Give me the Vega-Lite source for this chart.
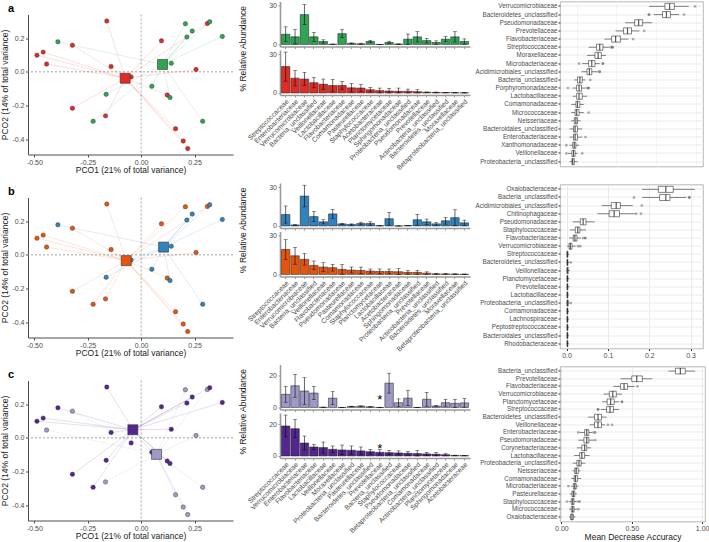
{
"$schema": "https://vega.github.io/schema/vega-lite/v6.json",
"padding": {"left": 0, "top": 0.5, "right": 0, "bottom": 0},
"config": {
  "font": "Liberation Sans",
  "view": {"stroke": null},
  "locale": {"number": {"decimal": ".", "thousands": ",", "grouping": [3], "currency": ["$", ""], "minus": "-"}},
  "axis": {"labelFont": "Liberation Sans", "labelFontSize": 7, "labelColor": "#4d4d4d", "titleFont": "Liberation Sans", "titleFontSize": 8.5, "titleFontWeight": "normal", "titleColor": "#1a1a1a", "tickColor": "#333333", "tickSize": 2.5, "labelPadding": 1.5, "domainColor": "#333333", "grid": false},
  "title": {"font": "Liberation Sans"}
},
"datasets": {
  "pts": [
    {"id":1,"x":-0.161,"y":0.301,"ga":"a1","gb":"b1","gc":"c1"},
    {"id":2,"x":-0.322,"y":0.158,"ga":"a1","gb":"b1","gc":"c2"},
    {"id":3,"x":-0.459,"y":0.117,"ga":"a1","gb":"b1","gc":"c1"},
    {"id":4,"x":-0.488,"y":0.099,"ga":"a1","gb":"b1","gc":"c1"},
    {"id":5,"x":-0.443,"y":0.046,"ga":"a1","gb":"b1","gc":"c2"},
    {"id":6,"x":-0.141,"y":0.032,"ga":"a1","gb":"b1","gc":"c1"},
    {"id":7,"x":-0.047,"y":-0.030,"ga":"a1","gb":"b2","gc":"c1"},
    {"id":8,"x":0.095,"y":0.184,"ga":"a1","gb":"b1","gc":"c1"},
    {"id":9,"x":0.257,"y":0.014,"ga":"a1","gb":"b1","gc":"c2"},
    {"id":10,"x":0.310,"y":0.287,"ga":"a1","gb":"b1","gc":"c2"},
    {"id":11,"x":0.122,"y":-0.137,"ga":"a1","gb":"b1","gc":"c1"},
    {"id":12,"x":-0.322,"y":-0.216,"ga":"a1","gb":"b1","gc":"c1"},
    {"id":13,"x":-0.167,"y":-0.261,"ga":"a1","gb":"b1","gc":"c2"},
    {"id":14,"x":0.161,"y":-0.337,"ga":"a1","gb":"b1","gc":"c2"},
    {"id":15,"x":0.197,"y":-0.410,"ga":"a1","gb":"b1","gc":"c2"},
    {"id":16,"x":0.218,"y":-0.455,"ga":"a1","gb":"b1","gc":"c2"},
    {"id":17,"x":-0.390,"y":0.178,"ga":"a2","gb":"b2","gc":"c1"},
    {"id":18,"x":-0.164,"y":-0.133,"ga":"a2","gb":"b2","gc":"c1"},
    {"id":19,"x":-0.225,"y":-0.293,"ga":"a2","gb":"b1","gc":"c1"},
    {"id":20,"x":0.050,"y":-0.085,"ga":"a2","gb":"b2","gc":"c1"},
    {"id":21,"x":0.135,"y":-0.152,"ga":"a2","gb":"b2","gc":"c1"},
    {"id":22,"x":0.141,"y":0.051,"ga":"a2","gb":"b2","gc":"c1"},
    {"id":23,"x":0.207,"y":0.285,"ga":"a2","gb":"b1","gc":"c2"},
    {"id":24,"x":0.239,"y":0.242,"ga":"a2","gb":"b2","gc":"c1"},
    {"id":25,"x":0.214,"y":0.206,"ga":"a2","gb":"b2","gc":"c1"},
    {"id":26,"x":0.321,"y":0.297,"ga":"a2","gb":"b2","gc":"c1"},
    {"id":27,"x":0.380,"y":0.210,"ga":"a2","gb":"b2","gc":"c1"},
    {"id":28,"x":0.288,"y":-0.293,"ga":"a2","gb":"b2","gc":"c2"}
  ],
  "cents": [
    {"g":"a1","x":-0.075,"y":-0.038},{"g":"a2","x":0.100,"y":0.044},
    {"g":"b1","x":-0.070,"y":-0.034},{"g":"b2","x":0.105,"y":0.046},
    {"g":"c1","x":-0.039,"y":0.048},{"g":"c2","x":0.072,"y":-0.098}
  ],
  "bars": [
    {"p":"a","s":"t","f":"Streptococcaceae","m":7.9,"lo":2.1,"hi":13.7},
    {"p":"a","s":"t","f":"Enterobacteriaceae","m":5.9,"lo":0.3,"hi":11.5},
    {"p":"a","s":"t","f":"Verrucomicrobiaceae","m":23.2,"lo":15.4,"hi":31.0},
    {"p":"a","s":"t","f":"Bacteria_unclassified","m":5.9,"lo":2.4,"hi":9.4},
    {"p":"a","s":"t","f":"Veillonellaceae","m":2.3,"lo":1.0,"hi":3.6},
    {"p":"a","s":"t","f":"Lactobacillaceae","m":0.2,"lo":0.1,"hi":0.3},
    {"p":"a","s":"t","f":"Flavobacteriaceae","m":8.4,"lo":5.3,"hi":11.5},
    {"p":"a","s":"t","f":"Comamonadaceae","m":0.8,"lo":0.4,"hi":1.2},
    {"p":"a","s":"t","f":"Pasteurellaceae","m":0.5,"lo":0.0,"hi":1.0},
    {"p":"a","s":"t","f":"Staphylococcaceae","m":2.3,"lo":1.4,"hi":3.2},
    {"p":"a","s":"t","f":"Acetobacteraceae","m":0,"lo":0,"hi":0},
    {"p":"a","s":"t","f":"Planctomycetaceae","m":1.5,"lo":0.5,"hi":2.5},
    {"p":"a","s":"t","f":"Sphingomonadaceae","m":0.3,"lo":0.1,"hi":0.5},
    {"p":"a","s":"t","f":"Proteobacteria_unclassified","m":4.1,"lo":0.1,"hi":8.1},
    {"p":"a","s":"t","f":"Pseudomonadaceae","m":5.9,"lo":1.9,"hi":9.9},
    {"p":"a","s":"t","f":"Prevotellaceae","m":3.0,"lo":1.2,"hi":4.8},
    {"p":"a","s":"t","f":"Actinobacteria_unclassified","m":1.5,"lo":0.2,"hi":2.8},
    {"p":"a","s":"t","f":"Bacteroidetes_unclassified","m":4.1,"lo":2.1,"hi":6.1},
    {"p":"a","s":"t","f":"Moraxellaceae","m":5.9,"lo":1.9,"hi":9.9},
    {"p":"a","s":"t","f":"Betaproteobacteria_unclassified","m":2.3,"lo":0.3,"hi":4.3},
    {"p":"a","s":"b","f":"Streptococcaceae","m":20.5,"lo":9.2,"hi":31.8},
    {"p":"a","s":"b","f":"Enterobacteriaceae","m":11.5,"lo":5.5,"hi":17.5},
    {"p":"a","s":"b","f":"Verrucomicrobiaceae","m":10.8,"lo":5.6,"hi":16.0},
    {"p":"a","s":"b","f":"Bacteria_unclassified","m":8.0,"lo":4.0,"hi":12.0},
    {"p":"a","s":"b","f":"Veillonellaceae","m":6.8,"lo":2.8,"hi":10.8},
    {"p":"a","s":"b","f":"Lactobacillaceae","m":5.8,"lo":1.1,"hi":10.5},
    {"p":"a","s":"b","f":"Flavobacteriaceae","m":5.8,"lo":2.6,"hi":9.0},
    {"p":"a","s":"b","f":"Comamonadaceae","m":4.0,"lo":0.7,"hi":7.3},
    {"p":"a","s":"b","f":"Pasteurellaceae","m":3.8,"lo":1.1,"hi":6.5},
    {"p":"a","s":"b","f":"Staphylococcaceae","m":2.5,"lo":0.7,"hi":4.3},
    {"p":"a","s":"b","f":"Acetobacteraceae","m":1.8,"lo":0,"hi":3.8},
    {"p":"a","s":"b","f":"Planctomycetaceae","m":1.5,"lo":0,"hi":3.5},
    {"p":"a","s":"b","f":"Sphingomonadaceae","m":1.3,"lo":0,"hi":3.8},
    {"p":"a","s":"b","f":"Proteobacteria_unclassified","m":1.3,"lo":0,"hi":3.0},
    {"p":"a","s":"b","f":"Pseudomonadaceae","m":1.0,"lo":0,"hi":2.5},
    {"p":"a","s":"b","f":"Prevotellaceae","m":0.5,"lo":0.2,"hi":0.8},
    {"p":"a","s":"b","f":"Actinobacteria_unclassified","m":0.4,"lo":0.1,"hi":0.7},
    {"p":"a","s":"b","f":"Bacteroidetes_unclassified","m":0.3,"lo":0.1,"hi":0.5},
    {"p":"a","s":"b","f":"Moraxellaceae","m":0.2,"lo":0.1,"hi":0.3},
    {"p":"a","s":"b","f":"Betaproteobacteria_unclassified","m":0.1,"lo":0,"hi":0.2},
    {"p":"b","s":"t","f":"Streptococcaceae","m":8.8,"lo":2.2,"hi":15.4},
    {"p":"b","s":"t","f":"Enterobacteriaceae","m":0.8,"lo":0.4,"hi":1.2},
    {"p":"b","s":"t","f":"Verrucomicrobiaceae","m":23.1,"lo":14.7,"hi":31.5},
    {"p":"b","s":"t","f":"Bacteria_unclassified","m":7.2,"lo":3.3,"hi":11.1},
    {"p":"b","s":"t","f":"Veillonellaceae","m":3.2,"lo":1.6,"hi":4.8},
    {"p":"b","s":"t","f":"Flavobacteriaceae","m":9.3,"lo":5.9,"hi":12.7},
    {"p":"b","s":"t","f":"Pseudomonadaceae","m":1.6,"lo":1.1,"hi":2.1},
    {"p":"b","s":"t","f":"Pasteurellaceae","m":1.1,"lo":0.6,"hi":1.6},
    {"p":"b","s":"t","f":"Comamonadaceae","m":1.9,"lo":0.9,"hi":2.9},
    {"p":"b","s":"t","f":"Staphylococcaceae","m":1.9,"lo":0.6,"hi":3.2},
    {"p":"b","s":"t","f":"Planctomycetaceae","m":0.2,"lo":0.1,"hi":0.3},
    {"p":"b","s":"t","f":"Lactobacillaceae","m":5.6,"lo":0.6,"hi":10.6},
    {"p":"b","s":"t","f":"Acetobacteraceae","m":0,"lo":0,"hi":0},
    {"p":"b","s":"t","f":"Sphingomonadaceae","m":0.3,"lo":0.1,"hi":0.5},
    {"p":"b","s":"t","f":"Proteobacteria_unclassified","m":4.8,"lo":0.6,"hi":9.0},
    {"p":"b","s":"t","f":"Prevotellaceae","m":3.2,"lo":1.1,"hi":5.3},
    {"p":"b","s":"t","f":"Actinobacteria_unclassified","m":1.6,"lo":0.5,"hi":2.7},
    {"p":"b","s":"t","f":"Bacteroidetes_unclassified","m":4.0,"lo":1.4,"hi":6.6},
    {"p":"b","s":"t","f":"Moraxellaceae","m":6.4,"lo":0.3,"hi":12.5},
    {"p":"b","s":"t","f":"Betaproteobacteria_unclassified","m":2.4,"lo":0.3,"hi":4.5},
    {"p":"b","s":"b","f":"Streptococcaceae","m":19.3,"lo":11.7,"hi":26.9},
    {"p":"b","s":"b","f":"Enterobacteriaceae","m":14.4,"lo":7.9,"hi":20.9},
    {"p":"b","s":"b","f":"Verrucomicrobiaceae","m":11.7,"lo":7.2,"hi":16.2},
    {"p":"b","s":"b","f":"Bacteria_unclassified","m":7.0,"lo":3.6,"hi":10.4},
    {"p":"b","s":"b","f":"Veillonellaceae","m":5.7,"lo":2.3,"hi":9.1},
    {"p":"b","s":"b","f":"Flavobacteriaceae","m":5.2,"lo":2.6,"hi":7.8},
    {"p":"b","s":"b","f":"Pseudomonadaceae","m":3.9,"lo":0.2,"hi":7.6},
    {"p":"b","s":"b","f":"Pasteurellaceae","m":3.4,"lo":1.1,"hi":5.7},
    {"p":"b","s":"b","f":"Comamonadaceae","m":3.1,"lo":0.5,"hi":5.7},
    {"p":"b","s":"b","f":"Staphylococcaceae","m":2.6,"lo":1.0,"hi":4.2},
    {"p":"b","s":"b","f":"Planctomycetaceae","m":2.3,"lo":0.4,"hi":4.2},
    {"p":"b","s":"b","f":"Lactobacillaceae","m":2.3,"lo":0.4,"hi":4.2},
    {"p":"b","s":"b","f":"Acetobacteraceae","m":2.1,"lo":0,"hi":4.5},
    {"p":"b","s":"b","f":"Sphingomonadaceae","m":1.6,"lo":0.2,"hi":3.0},
    {"p":"b","s":"b","f":"Proteobacteria_unclassified","m":1.6,"lo":0.2,"hi":3.0},
    {"p":"b","s":"b","f":"Prevotellaceae","m":1.0,"lo":0,"hi":2.0},
    {"p":"b","s":"b","f":"Actinobacteria_unclassified","m":0.5,"lo":0.2,"hi":0.8},
    {"p":"b","s":"b","f":"Bacteroidetes_unclassified","m":0.4,"lo":0.2,"hi":0.6},
    {"p":"b","s":"b","f":"Moraxellaceae","m":0.3,"lo":0.1,"hi":0.5},
    {"p":"b","s":"b","f":"Betaproteobacteria_unclassified","m":0.2,"lo":0.1,"hi":0.3},
    {"p":"c","s":"t","f":"Streptococcaceae","m":8.3,"lo":3.3,"hi":13.3},
    {"p":"c","s":"t","f":"Verrucomicrobiaceae","m":13.7,"lo":6.5,"hi":20.9},
    {"p":"c","s":"t","f":"Enterobacteriaceae","m":10.4,"lo":1.9,"hi":18.9},
    {"p":"c","s":"t","f":"Flavobacteriaceae","m":9.1,"lo":4.9,"hi":13.3},
    {"p":"c","s":"t","f":"Lactobacillaceae","m":0.1,"lo":0,"hi":0.2},
    {"p":"c","s":"t","f":"Veillonellaceae","m":5.9,"lo":1.8,"hi":10.0},
    {"p":"c","s":"t","f":"Moraxellaceae","m":0,"lo":0,"hi":0},
    {"p":"c","s":"t","f":"Proteobacteria_unclassified","m":0.6,"lo":0.4,"hi":0.8},
    {"p":"c","s":"t","f":"Pasteurellaceae","m":0.8,"lo":0.6,"hi":1.0},
    {"p":"c","s":"t","f":"Bacteroidetes_unclassified","m":0.4,"lo":0.2,"hi":0.6},
    {"p":"c","s":"t","f":"Prevotellaceae","m":0,"lo":0,"hi":0},
    {"p":"c","s":"t","f":"Bacteria_unclassified","m":15.4,"lo":9.1,"hi":21.7},
    {"p":"c","s":"t","f":"Staphylococcaceae","m":3.0,"lo":0.6,"hi":5.4},
    {"p":"c","s":"t","f":"Pseudomonadaceae","m":5.9,"lo":1.1,"hi":10.7},
    {"p":"c","s":"t","f":"Betaproteobacteria_unclassified","m":0,"lo":0,"hi":0},
    {"p":"c","s":"t","f":"Comamonadaceae","m":5.2,"lo":0.8,"hi":9.6},
    {"p":"c","s":"t","f":"Actinobacteria_unclassified","m":0.9,"lo":0.5,"hi":1.3},
    {"p":"c","s":"t","f":"Planctomycetaceae","m":3.0,"lo":0.8,"hi":5.2},
    {"p":"c","s":"t","f":"Sphingomonadaceae","m":2.6,"lo":0,"hi":5.2},
    {"p":"c","s":"t","f":"Acetobacteraceae","m":2.9,"lo":0.2,"hi":5.6},
    {"p":"c","s":"b","f":"Streptococcaceae","m":19.0,"lo":12.1,"hi":25.9},
    {"p":"c","s":"b","f":"Verrucomicrobiaceae","m":17.3,"lo":11.6,"hi":23.0},
    {"p":"c","s":"b","f":"Enterobacteriaceae","m":8.2,"lo":3.8,"hi":12.6},
    {"p":"c","s":"b","f":"Flavobacteriaceae","m":5.7,"lo":4.0,"hi":7.4},
    {"p":"c","s":"b","f":"Lactobacillaceae","m":5.3,"lo":1.8,"hi":8.8},
    {"p":"c","s":"b","f":"Veillonellaceae","m":4.2,"lo":2.1,"hi":6.3},
    {"p":"c","s":"b","f":"Moraxellaceae","m":3.8,"lo":0.7,"hi":6.9},
    {"p":"c","s":"b","f":"Proteobacteria_unclassified","m":3.6,"lo":0.9,"hi":6.3},
    {"p":"c","s":"b","f":"Pasteurellaceae","m":3.2,"lo":0.7,"hi":5.7},
    {"p":"c","s":"b","f":"Bacteroidetes_unclassified","m":2.7,"lo":1.2,"hi":4.2},
    {"p":"c","s":"b","f":"Prevotellaceae","m":2.3,"lo":0.6,"hi":4.0},
    {"p":"c","s":"b","f":"Bacteria_unclassified","m":2.1,"lo":0.8,"hi":3.4},
    {"p":"c","s":"b","f":"Staphylococcaceae","m":1.9,"lo":0.6,"hi":3.2},
    {"p":"c","s":"b","f":"Pseudomonadaceae","m":1.7,"lo":0.5,"hi":2.9},
    {"p":"c","s":"b","f":"Betaproteobacteria_unclassified","m":1.5,"lo":0,"hi":3.4},
    {"p":"c","s":"b","f":"Comamonadaceae","m":1.3,"lo":0.3,"hi":2.3},
    {"p":"c","s":"b","f":"Actinobacteria_unclassified","m":1.1,"lo":0.1,"hi":2.1},
    {"p":"c","s":"b","f":"Planctomycetaceae","m":0.8,"lo":0.1,"hi":1.5},
    {"p":"c","s":"b","f":"Sphingomonadaceae","m":0.3,"lo":0.1,"hi":0.5},
    {"p":"c","s":"b","f":"Acetobacteraceae","m":0.2,"lo":0.1,"hi":0.3}
  ],
  "stars": [
    {"p":"c","s":"t","f":"Prevotellaceae","y":6.5},
    {"p":"c","s":"b","f":"Prevotellaceae","y":6.0}
  ],
  "box": [
    {"p":"a","f":"Verrucomicrobiaceae","lo":0.58,"q1":0.68,"md":0.71,"q3":0.74,"hi":0.83},
    {"p":"a","f":"Bacteroidetes_unclassified","lo":0.61,"q1":0.665,"md":0.69,"q3":0.715,"hi":0.77},
    {"p":"a","f":"Pseudomonadaceae","lo":0.43,"q1":0.49,"md":0.515,"q3":0.54,"hi":0.60},
    {"p":"a","f":"Prevotellaceae","lo":0.37,"q1":0.42,"md":0.445,"q3":0.47,"hi":0.52},
    {"p":"a","f":"Flavobacteriaceae","lo":0.30,"q1":0.345,"md":0.37,"q3":0.40,"hi":0.45},
    {"p":"a","f":"Streptococcaceae","lo":0.20,"q1":0.25,"md":0.27,"q3":0.29,"hi":0.33},
    {"p":"a","f":"Moraxellaceae","lo":0.19,"q1":0.24,"md":0.26,"q3":0.28,"hi":0.31},
    {"p":"a","f":"Microbacteriaceae","lo":0.16,"q1":0.20,"md":0.22,"q3":0.24,"hi":0.27},
    {"p":"a","f":"Acidimicrobiales_unclassified","lo":0.155,"q1":0.19,"md":0.205,"q3":0.22,"hi":0.26},
    {"p":"a","f":"Bacteria_unclassified","lo":0.11,"q1":0.13,"md":0.145,"q3":0.16,"hi":0.18},
    {"p":"a","f":"Porphyromonadaceae","lo":0.10,"q1":0.125,"md":0.14,"q3":0.155,"hi":0.18},
    {"p":"a","f":"Lactobacillaceae","lo":0.10,"q1":0.125,"md":0.14,"q3":0.16,"hi":0.19},
    {"p":"a","f":"Comamonadaceae","lo":0.09,"q1":0.12,"md":0.13,"q3":0.145,"hi":0.17},
    {"p":"a","f":"Micrococcaceae","lo":0.09,"q1":0.115,"md":0.125,"q3":0.14,"hi":0.17},
    {"p":"a","f":"Neisseriaceae","lo":0.09,"q1":0.11,"md":0.12,"q3":0.13,"hi":0.15},
    {"p":"a","f":"Bacteroidales_unclassified","lo":0.08,"q1":0.105,"md":0.115,"q3":0.13,"hi":0.16},
    {"p":"a","f":"Enterobacteriaceae","lo":0.08,"q1":0.105,"md":0.115,"q3":0.13,"hi":0.16},
    {"p":"a","f":"Xanthomonadaceae","lo":0.08,"q1":0.10,"md":0.11,"q3":0.12,"hi":0.14},
    {"p":"a","f":"Veillonellaceae","lo":0.07,"q1":0.095,"md":0.105,"q3":0.115,"hi":0.13},
    {"p":"a","f":"Proteobacteria_unclassified","lo":0.08,"q1":0.095,"md":0.10,"q3":0.11,"hi":0.13},
    {"p":"b","f":"Oxalobacteraceae","lo":0.183,"q1":0.222,"md":0.240,"q3":0.258,"hi":0.31},
    {"p":"b","f":"Bacteria_unclassified","lo":0.183,"q1":0.225,"md":0.240,"q3":0.250,"hi":0.29},
    {"p":"b","f":"Acidimicrobiales_unclassified","lo":0.085,"q1":0.108,"md":0.12,"q3":0.13,"hi":0.16},
    {"p":"b","f":"Chitinophagaceae","lo":0.075,"q1":0.103,"md":0.115,"q3":0.128,"hi":0.165},
    {"p":"b","f":"Pseudomonadaceae","lo":0.015,"q1":0.033,"md":0.04,"q3":0.047,"hi":0.068},
    {"p":"b","f":"Staphylococcaceae","lo":0.008,"q1":0.021,"md":0.027,"q3":0.032,"hi":0.047},
    {"p":"b","f":"Flavobacteriaceae","lo":0.006,"q1":0.016,"md":0.02,"q3":0.025,"hi":0.035},
    {"p":"b","f":"Verrucomicrobiaceae","lo":0.001,"q1":0.006,"md":0.009,"q3":0.013,"hi":0.022},
    {"p":"b","f":"Streptococcaceae","lo":0.0,"q1":0.001,"md":0.002,"q3":0.003,"hi":0.006},
    {"p":"b","f":"Bacteroidetes_unclassified","lo":0.0,"q1":0.001,"md":0.002,"q3":0.003,"hi":0.006},
    {"p":"b","f":"Veillonellaceae","lo":0.0,"q1":0.001,"md":0.002,"q3":0.004,"hi":0.008},
    {"p":"b","f":"Planctomycetaceae","lo":0.0,"q1":0.001,"md":0.002,"q3":0.003,"hi":0.007},
    {"p":"b","f":"Prevotellaceae","lo":0.0,"q1":0.001,"md":0.002,"q3":0.003,"hi":0.007},
    {"p":"b","f":"Lactobacillaceae","lo":0.0,"q1":0.001,"md":0.002,"q3":0.003,"hi":0.005},
    {"p":"b","f":"Proteobacteria_unclassified","lo":0.0,"q1":0.001,"md":0.002,"q3":0.004,"hi":0.007},
    {"p":"b","f":"Comamonadaceae","lo":0.0,"q1":0.001,"md":0.002,"q3":0.003,"hi":0.006},
    {"p":"b","f":"Lachnospiraceae","lo":0.0,"q1":0.001,"md":0.002,"q3":0.003,"hi":0.005},
    {"p":"b","f":"Peptostreptococcaceae","lo":0.0,"q1":0.001,"md":0.002,"q3":0.003,"hi":0.005},
    {"p":"b","f":"Bacteroidales_unclassified","lo":0.0,"q1":0.001,"md":0.002,"q3":0.003,"hi":0.005},
    {"p":"b","f":"Rhodobacteraceae","lo":0.0,"q1":0.001,"md":0.002,"q3":0.003,"hi":0.005},
    {"p":"c","f":"Bacteria_unclassified","lo":0.76,"q1":0.81,"md":0.845,"q3":0.88,"hi":0.95},
    {"p":"c","f":"Prevotellaceae","lo":0.42,"q1":0.50,"md":0.535,"q3":0.575,"hi":0.645},
    {"p":"c","f":"Flavobacteriaceae","lo":0.37,"q1":0.42,"md":0.445,"q3":0.47,"hi":0.52},
    {"p":"c","f":"Verrucomicrobiaceae","lo":0.30,"q1":0.34,"md":0.365,"q3":0.39,"hi":0.43},
    {"p":"c","f":"Planctomycetaceae","lo":0.29,"q1":0.325,"md":0.35,"q3":0.375,"hi":0.41},
    {"p":"c","f":"Streptococcaceae","lo":0.28,"q1":0.32,"md":0.345,"q3":0.37,"hi":0.41},
    {"p":"c","f":"Bacteroidetes_unclassified","lo":0.19,"q1":0.235,"md":0.26,"q3":0.285,"hi":0.32},
    {"p":"c","f":"Veillonellaceae","lo":0.20,"q1":0.235,"md":0.26,"q3":0.285,"hi":0.31},
    {"p":"c","f":"Enterobacteriaceae","lo":0.13,"q1":0.165,"md":0.18,"q3":0.195,"hi":0.22},
    {"p":"c","f":"Pseudomonadaceae","lo":0.12,"q1":0.16,"md":0.18,"q3":0.195,"hi":0.23},
    {"p":"c","f":"Corynebacteriaceae","lo":0.11,"q1":0.145,"md":0.165,"q3":0.18,"hi":0.21},
    {"p":"c","f":"Lactobacillaceae","lo":0.09,"q1":0.13,"md":0.145,"q3":0.165,"hi":0.20},
    {"p":"c","f":"Proteobacteria_unclassified","lo":0.08,"q1":0.11,"md":0.125,"q3":0.14,"hi":0.17},
    {"p":"c","f":"Neisseriaceae","lo":0.08,"q1":0.095,"md":0.105,"q3":0.12,"hi":0.135},
    {"p":"c","f":"Comamonadaceae","lo":0.07,"q1":0.09,"md":0.10,"q3":0.115,"hi":0.14},
    {"p":"c","f":"Microbacteriaceae","lo":0.07,"q1":0.085,"md":0.095,"q3":0.105,"hi":0.12},
    {"p":"c","f":"Pasteurellaceae","lo":0.06,"q1":0.075,"md":0.085,"q3":0.095,"hi":0.11},
    {"p":"c","f":"Staphylococcaceae","lo":0.055,"q1":0.07,"md":0.08,"q3":0.09,"hi":0.11},
    {"p":"c","f":"Micrococcaceae","lo":0.055,"q1":0.07,"md":0.08,"q3":0.09,"hi":0.11},
    {"p":"c","f":"Oxalobacteraceae","lo":0.055,"q1":0.065,"md":0.075,"q3":0.085,"hi":0.10}
  ],
  "outl": [
    {"p":"a","f":"Verrucomicrobiaceae","v":0.87},
    {"p":"a","f":"Bacteroidetes_unclassified","v":0.58},
    {"p":"a","f":"Bacteroidetes_unclassified","v":0.58},
    {"p":"a","f":"Bacteroidetes_unclassified","v":0.80},
    {"p":"a","f":"Prevotellaceae","v":0.55},
    {"p":"a","f":"Flavobacteriaceae","v":0.48},
    {"p":"a","f":"Streptococcaceae","v":0.34},
    {"p":"a","f":"Streptococcaceae","v":0.35},
    {"p":"a","f":"Streptococcaceae","v":0.35},
    {"p":"a","f":"Microbacteriaceae","v":0.14},
    {"p":"a","f":"Microbacteriaceae","v":0.29},
    {"p":"a","f":"Microbacteriaceae","v":0.29},
    {"p":"a","f":"Acidimicrobiales_unclassified","v":0.27},
    {"p":"a","f":"Acidimicrobiales_unclassified","v":0.27},
    {"p":"a","f":"Bacteria_unclassified","v":0.21},
    {"p":"a","f":"Porphyromonadaceae","v":0.07},
    {"p":"a","f":"Porphyromonadaceae","v":0.19},
    {"p":"a","f":"Porphyromonadaceae","v":0.20},
    {"p":"a","f":"Porphyromonadaceae","v":0.20},
    {"p":"a","f":"Micrococcaceae","v":0.20},
    {"p":"a","f":"Enterobacteriaceae","v":0.18},
    {"p":"a","f":"Xanthomonadaceae","v":0.06},
    {"p":"a","f":"Veillonellaceae","v":0.06},
    {"p":"a","f":"Veillonellaceae","v":0.16},
    {"p":"b","f":"Bacteria_unclassified","v":0.163},
    {"p":"b","f":"Bacteria_unclassified","v":0.297},
    {"p":"b","f":"Bacteria_unclassified","v":0.297},
    {"p":"b","f":"Acidimicrobiales_unclassified","v":0.182},
    {"p":"b","f":"Chitinophagaceae","v":0.168},
    {"p":"b","f":"Chitinophagaceae","v":0.18},
    {"p":"b","f":"Flavobacteriaceae","v":0.04},
    {"p":"b","f":"Flavobacteriaceae","v":0.045},
    {"p":"b","f":"Flavobacteriaceae","v":0.045},
    {"p":"b","f":"Verrucomicrobiaceae","v":0.028},
    {"p":"b","f":"Verrucomicrobiaceae","v":0.033},
    {"p":"b","f":"Bacteroidetes_unclassified","v":0.01},
    {"p":"b","f":"Proteobacteria_unclassified","v":0.01},
    {"p":"c","f":"Flavobacteriaceae","v":0.54},
    {"p":"c","f":"Planctomycetaceae","v":0.43},
    {"p":"c","f":"Planctomycetaceae","v":0.43},
    {"p":"c","f":"Streptococcaceae","v":0.26},
    {"p":"c","f":"Streptococcaceae","v":0.26},
    {"p":"c","f":"Veillonellaceae","v":0.33},
    {"p":"c","f":"Veillonellaceae","v":0.36},
    {"p":"c","f":"Enterobacteriaceae","v":0.12},
    {"p":"c","f":"Enterobacteriaceae","v":0.23},
    {"p":"c","f":"Enterobacteriaceae","v":0.24},
    {"p":"c","f":"Pseudomonadaceae","v":0.24},
    {"p":"c","f":"Microbacteriaceae","v":0.05},
    {"p":"c","f":"Staphylococcaceae","v":0.04},
    {"p":"c","f":"Staphylococcaceae","v":0.12},
    {"p":"c","f":"Staphylococcaceae","v":0.13},
    {"p":"c","f":"Micrococcaceae","v":0.12}
  ]
},
"spacing": 4,
"hconcat": [
  {"spacing": 0, "vconcat": [
    {"width": 205, "height": 1, "data": {"values": []}, "mark": {"type": "text", "text": ""}, "encoding": {}},
    {"bounds": "flush", "spacing": 43, "vconcat": [
      {"width": 205, "height": 140,
       "title": {"text": "a", "anchor": "start", "frame": "group", "dx": -20, "offset": 0.5, "fontSize": 11, "fontWeight": "bold", "color": "#000000"},
       "layer": [
        {"data": {"values": [{}]}, "mark": {"type": "rule", "strokeDash": [2, 2], "color": "#8c8c8c", "strokeWidth": 0.8}, "encoding": {"y": {"datum": 0, "type": "quantitative"}}},
        {"data": {"values": [{}]}, "mark": {"type": "rule", "strokeDash": [2, 2], "color": "#8c8c8c", "strokeWidth": 0.8}, "encoding": {"x": {"datum": 0, "type": "quantitative"}}},
        {"data": {"name": "pts"}, "transform": [{"lookup": "ga", "from": {"data": {"name": "cents"}, "key": "g", "fields": ["x", "y"]}, "as": ["cx", "cy"]}],
         "mark": {"type": "rule", "strokeWidth": 0.5, "opacity": 0.3},
         "encoding": {"x": {"field": "x", "type": "quantitative"}, "y": {"field": "y", "type": "quantitative"}, "x2": {"field": "cx"}, "y2": {"field": "cy"}, "color": {"field": "ga", "type": "nominal", "scale": {"domain": ["a1","a2","b1","b2","c1","c2"], "range": ["#de2d26","#31a354","#e6550d","#3182bd","#54278f","#9e9ac8"]}, "legend": null}}},
        {"data": {"name": "pts"}, "mark": {"type": "circle", "size": 20, "opacity": 1, "stroke": "#333333", "strokeWidth": 0.4},
         "encoding": {
           "x": {"field": "x", "type": "quantitative", "scale": {"domain": [-0.53, 0.43], "nice": false, "zero": false}, "axis": {"values": [-0.5, -0.25, 0, 0.25], "format": ".2f", "title": "PCO1 (21% of total variance)", "domainColor": "#4d4d4d", "tickColor": "#4d4d4d", "labelPadding": 1, "titlePadding": 0.5}},
           "y": {"field": "y", "type": "quantitative", "scale": {"domain": [-0.49, 0.34], "nice": false, "zero": false}, "axis": {"values": [-0.4, -0.2, 0, 0.2], "format": ".1f", "title": "PCO2 (14% of total variance)", "domainColor": "#4d4d4d", "tickColor": "#4d4d4d", "titlePadding": 2}},
           "color": {"field": "ga", "type": "nominal", "scale": {"domain": ["a1","a2","b1","b2","c1","c2"], "range": ["#de2d26","#31a354","#e6550d","#3182bd","#54278f","#9e9ac8"]}, "legend": null}}},
        {"data": {"name": "cents"}, "transform": [{"filter": "datum.g == 'a1' || datum.g == 'a2'"}], "mark": {"type": "square", "size": 100, "opacity": 1, "stroke": "#333333", "strokeWidth": 0.6},
         "encoding": {"x": {"field": "x", "type": "quantitative"}, "y": {"field": "y", "type": "quantitative"}, "color": {"field": "g", "type": "nominal", "scale": {"domain": ["a1","a2","b1","b2","c1","c2"], "range": ["#de2d26","#31a354","#e6550d","#3182bd","#54278f","#9e9ac8"]}, "legend": null}}}
       ]},
      {"width": 205, "height": 140,
       "title": {"text": "b", "anchor": "start", "frame": "group", "dx": -20, "offset": 0.5, "fontSize": 11, "fontWeight": "bold", "color": "#000000"},
       "layer": [
        {"data": {"values": [{}]}, "mark": {"type": "rule", "strokeDash": [2, 2], "color": "#8c8c8c", "strokeWidth": 0.8}, "encoding": {"y": {"datum": 0, "type": "quantitative"}}},
        {"data": {"values": [{}]}, "mark": {"type": "rule", "strokeDash": [2, 2], "color": "#8c8c8c", "strokeWidth": 0.8}, "encoding": {"x": {"datum": 0, "type": "quantitative"}}},
        {"data": {"name": "pts"}, "transform": [{"lookup": "gb", "from": {"data": {"name": "cents"}, "key": "g", "fields": ["x", "y"]}, "as": ["cx", "cy"]}],
         "mark": {"type": "rule", "strokeWidth": 0.5, "opacity": 0.3},
         "encoding": {"x": {"field": "x", "type": "quantitative"}, "y": {"field": "y", "type": "quantitative"}, "x2": {"field": "cx"}, "y2": {"field": "cy"}, "color": {"field": "gb", "type": "nominal", "scale": {"domain": ["a1","a2","b1","b2","c1","c2"], "range": ["#de2d26","#31a354","#e6550d","#3182bd","#54278f","#9e9ac8"]}, "legend": null}}},
        {"data": {"name": "pts"}, "mark": {"type": "circle", "size": 20, "opacity": 1, "stroke": "#333333", "strokeWidth": 0.4},
         "encoding": {
           "x": {"field": "x", "type": "quantitative", "scale": {"domain": [-0.53, 0.43], "nice": false, "zero": false}, "axis": {"values": [-0.5, -0.25, 0, 0.25], "format": ".2f", "title": "PCO1 (21% of total variance)", "domainColor": "#4d4d4d", "tickColor": "#4d4d4d", "labelPadding": 1, "titlePadding": 0.5}},
           "y": {"field": "y", "type": "quantitative", "scale": {"domain": [-0.49, 0.34], "nice": false, "zero": false}, "axis": {"values": [-0.4, -0.2, 0, 0.2], "format": ".1f", "title": "PCO2 (14% of total variance)", "domainColor": "#4d4d4d", "tickColor": "#4d4d4d", "titlePadding": 2}},
           "color": {"field": "gb", "type": "nominal", "scale": {"domain": ["a1","a2","b1","b2","c1","c2"], "range": ["#de2d26","#31a354","#e6550d","#3182bd","#54278f","#9e9ac8"]}, "legend": null}}},
        {"data": {"name": "cents"}, "transform": [{"filter": "datum.g == 'b1' || datum.g == 'b2'"}], "mark": {"type": "square", "size": 100, "opacity": 1, "stroke": "#333333", "strokeWidth": 0.6},
         "encoding": {"x": {"field": "x", "type": "quantitative"}, "y": {"field": "y", "type": "quantitative"}, "color": {"field": "g", "type": "nominal", "scale": {"domain": ["a1","a2","b1","b2","c1","c2"], "range": ["#de2d26","#31a354","#e6550d","#3182bd","#54278f","#9e9ac8"]}, "legend": null}}}
       ]},
      {"width": 205, "height": 140,
       "title": {"text": "c", "anchor": "start", "frame": "group", "dx": -20, "offset": 0.5, "fontSize": 11, "fontWeight": "bold", "color": "#000000"},
       "layer": [
        {"data": {"values": [{}]}, "mark": {"type": "rule", "strokeDash": [2, 2], "color": "#8c8c8c", "strokeWidth": 0.8}, "encoding": {"y": {"datum": 0, "type": "quantitative"}}},
        {"data": {"values": [{}]}, "mark": {"type": "rule", "strokeDash": [2, 2], "color": "#8c8c8c", "strokeWidth": 0.8}, "encoding": {"x": {"datum": 0, "type": "quantitative"}}},
        {"data": {"name": "pts"}, "transform": [{"lookup": "gc", "from": {"data": {"name": "cents"}, "key": "g", "fields": ["x", "y"]}, "as": ["cx", "cy"]}],
         "mark": {"type": "rule", "strokeWidth": 0.5, "opacity": 0.3},
         "encoding": {"x": {"field": "x", "type": "quantitative"}, "y": {"field": "y", "type": "quantitative"}, "x2": {"field": "cx"}, "y2": {"field": "cy"}, "color": {"field": "gc", "type": "nominal", "scale": {"domain": ["a1","a2","b1","b2","c1","c2"], "range": ["#de2d26","#31a354","#e6550d","#3182bd","#54278f","#9e9ac8"]}, "legend": null}}},
        {"data": {"name": "pts"}, "mark": {"type": "circle", "size": 20, "opacity": 1, "stroke": "#333333", "strokeWidth": 0.4},
         "encoding": {
           "x": {"field": "x", "type": "quantitative", "scale": {"domain": [-0.53, 0.43], "nice": false, "zero": false}, "axis": {"values": [-0.5, -0.25, 0, 0.25], "format": ".2f", "title": "PCO1 (21% of total variance)", "domainColor": "#4d4d4d", "tickColor": "#4d4d4d", "labelPadding": 1, "titlePadding": 0.5}},
           "y": {"field": "y", "type": "quantitative", "scale": {"domain": [-0.49, 0.34], "nice": false, "zero": false}, "axis": {"values": [-0.4, -0.2, 0, 0.2], "format": ".1f", "title": "PCO2 (14% of total variance)", "domainColor": "#4d4d4d", "tickColor": "#4d4d4d", "titlePadding": 2}},
           "color": {"field": "gc", "type": "nominal", "scale": {"domain": ["a1","a2","b1","b2","c1","c2"], "range": ["#de2d26","#31a354","#e6550d","#3182bd","#54278f","#9e9ac8"]}, "legend": null}}},
        {"data": {"name": "cents"}, "transform": [{"filter": "datum.g == 'c1' || datum.g == 'c2'"}], "mark": {"type": "square", "size": 100, "opacity": 1, "stroke": "#333333", "strokeWidth": 0.6},
         "encoding": {"x": {"field": "x", "type": "quantitative"}, "y": {"field": "y", "type": "quantitative"}, "color": {"field": "g", "type": "nominal", "scale": {"domain": ["a1","a2","b1","b2","c1","c2"], "range": ["#de2d26","#31a354","#e6550d","#3182bd","#54278f","#9e9ac8"]}, "legend": null}}}
       ]}
    ]}
  ]},
  {"spacing": 4, "hconcat": [
  {"spacing": 11.5, "vconcat": [
      {"bounds": "flush", "spacing": 3.5, "vconcat": [
        {"width": 190, "height": 45, "data": {"name": "bars"}, "transform": [{"filter": "datum.p == 'a' && datum.s == 't'"}],
         "encoding": {"x": {"field": "f", "type": "nominal", "sort": null, "scale": {"paddingInner": 0.1, "paddingOuter": 0.15}, "axis": {"labels": false, "title": null, "domainColor": "#9a9a9a", "domainWidth": 1.6, "tickColor": "#9a9a9a", "tickSize": 2}}},
         "layer": [
          {"mark": {"type": "bar", "color": "#31a354", "stroke": "#1a1a1a", "strokeWidth": 0.5}, "encoding": {"y": {"field": "m", "type": "quantitative", "scale": {"domain": [-1.6, 33.4], "nice": false, "zero": false}, "axis": {"values": [0, 10, 20, 30], "title": "% Relative Abundance", "titleY": 46.75, "titlePadding": 21, "domainColor": "#9a9a9a", "domainWidth": 1.6, "tickColor": "#9a9a9a", "tickSize": 2}}, "y2": {"datum": 0}}},
          {"mark": {"type": "rule", "color": "#000000", "strokeWidth": 0.6}, "encoding": {"y": {"field": "lo", "type": "quantitative"}, "y2": {"field": "hi"}}},
          {"mark": {"type": "tick", "color": "#000000", "thickness": 0.6, "size": 4}, "encoding": {"y": {"field": "hi", "type": "quantitative"}}},
          {"mark": {"type": "tick", "color": "#000000", "thickness": 0.6, "size": 4}, "encoding": {"y": {"field": "lo", "type": "quantitative"}}}
         ]},
        {"width": 190, "height": 45, "data": {"name": "bars"}, "transform": [{"filter": "datum.p == 'a' && datum.s == 'b'"}],
         "encoding": {"x": {"field": "f", "type": "nominal", "sort": null, "scale": {"paddingInner": 0.1, "paddingOuter": 0.15}, "axis": {"title": null, "labelAngle": -45, "labelAlign": "right", "labelBaseline": "top", "labelFontSize": 6.8, "labelPadding": 1, "domainColor": "#9a9a9a", "domainWidth": 1.6, "tickColor": "#9a9a9a", "tickSize": 2}}},
         "layer": [
          {"mark": {"type": "bar", "color": "#de2d26", "stroke": "#1a1a1a", "strokeWidth": 0.5}, "encoding": {"y": {"field": "m", "type": "quantitative", "scale": {"domain": [-1.6, 33.4], "nice": false, "zero": false}, "axis": {"values": [0, 10, 20, 30], "title": null, "domainColor": "#9a9a9a", "domainWidth": 1.6, "tickColor": "#9a9a9a", "tickSize": 2}}, "y2": {"datum": 0}}},
          {"mark": {"type": "rule", "color": "#000000", "strokeWidth": 0.6}, "encoding": {"y": {"field": "lo", "type": "quantitative"}, "y2": {"field": "hi"}}},
          {"mark": {"type": "tick", "color": "#000000", "thickness": 0.6, "size": 4}, "encoding": {"y": {"field": "hi", "type": "quantitative"}}},
          {"mark": {"type": "tick", "color": "#000000", "thickness": 0.6, "size": 4}, "encoding": {"y": {"field": "lo", "type": "quantitative"}}}
         ]}
      ]},
      {"bounds": "flush", "spacing": 3.5, "vconcat": [
        {"width": 190, "height": 45, "data": {"name": "bars"}, "transform": [{"filter": "datum.p == 'b' && datum.s == 't'"}],
         "encoding": {"x": {"field": "f", "type": "nominal", "sort": null, "scale": {"paddingInner": 0.1, "paddingOuter": 0.15}, "axis": {"labels": false, "title": null, "domainColor": "#9a9a9a", "domainWidth": 1.6, "tickColor": "#9a9a9a", "tickSize": 2}}},
         "layer": [
          {"mark": {"type": "bar", "color": "#3182bd", "stroke": "#1a1a1a", "strokeWidth": 0.5}, "encoding": {"y": {"field": "m", "type": "quantitative", "scale": {"domain": [-1.6, 33.2], "nice": false, "zero": false}, "axis": {"values": [0, 10, 20, 30], "title": "% Relative Abundance", "titleY": 46.75, "titlePadding": 21, "domainColor": "#9a9a9a", "domainWidth": 1.6, "tickColor": "#9a9a9a", "tickSize": 2}}, "y2": {"datum": 0}}},
          {"mark": {"type": "rule", "color": "#000000", "strokeWidth": 0.6}, "encoding": {"y": {"field": "lo", "type": "quantitative"}, "y2": {"field": "hi"}}},
          {"mark": {"type": "tick", "color": "#000000", "thickness": 0.6, "size": 4}, "encoding": {"y": {"field": "hi", "type": "quantitative"}}},
          {"mark": {"type": "tick", "color": "#000000", "thickness": 0.6, "size": 4}, "encoding": {"y": {"field": "lo", "type": "quantitative"}}}
         ]},
        {"width": 190, "height": 45, "data": {"name": "bars"}, "transform": [{"filter": "datum.p == 'b' && datum.s == 'b'"}],
         "encoding": {"x": {"field": "f", "type": "nominal", "sort": null, "scale": {"paddingInner": 0.1, "paddingOuter": 0.15}, "axis": {"title": null, "labelAngle": -45, "labelAlign": "right", "labelBaseline": "top", "labelFontSize": 6.8, "labelPadding": 1, "domainColor": "#9a9a9a", "domainWidth": 1.6, "tickColor": "#9a9a9a", "tickSize": 2}}},
         "layer": [
          {"mark": {"type": "bar", "color": "#e6550d", "stroke": "#1a1a1a", "strokeWidth": 0.5}, "encoding": {"y": {"field": "m", "type": "quantitative", "scale": {"domain": [-1.6, 33.2], "nice": false, "zero": false}, "axis": {"values": [0, 10, 20, 30], "title": null, "domainColor": "#9a9a9a", "domainWidth": 1.6, "tickColor": "#9a9a9a", "tickSize": 2}}, "y2": {"datum": 0}}},
          {"mark": {"type": "rule", "color": "#000000", "strokeWidth": 0.6}, "encoding": {"y": {"field": "lo", "type": "quantitative"}, "y2": {"field": "hi"}}},
          {"mark": {"type": "tick", "color": "#000000", "thickness": 0.6, "size": 4}, "encoding": {"y": {"field": "hi", "type": "quantitative"}}},
          {"mark": {"type": "tick", "color": "#000000", "thickness": 0.6, "size": 4}, "encoding": {"y": {"field": "lo", "type": "quantitative"}}}
         ]}
      ]},
      {"bounds": "flush", "spacing": 3.5, "vconcat": [
        {"width": 190, "height": 45,
         "encoding": {"x": {"field": "f", "type": "nominal", "sort": null, "scale": {"paddingInner": 0.1, "paddingOuter": 0.15}, "axis": {"labels": false, "title": null, "domainColor": "#9a9a9a", "domainWidth": 1.6, "tickColor": "#9a9a9a", "tickSize": 2}}},
         "layer": [
          {"data": {"name": "bars"}, "transform": [{"filter": "datum.p == 'c' && datum.s == 't'"}], "mark": {"type": "bar", "color": "#9e9ac8", "stroke": "#1a1a1a", "strokeWidth": 0.5}, "encoding": {"y": {"field": "m", "type": "quantitative", "scale": {"domain": [-1.3, 27.2], "nice": false, "zero": false}, "axis": {"values": [0, 10, 20], "title": "% Relative Abundance", "titleY": 46.75, "titlePadding": 21, "domainColor": "#9a9a9a", "domainWidth": 1.6, "tickColor": "#9a9a9a", "tickSize": 2}}, "y2": {"datum": 0}}},
          {"data": {"name": "bars"}, "transform": [{"filter": "datum.p == 'c' && datum.s == 't'"}], "mark": {"type": "rule", "color": "#000000", "strokeWidth": 0.6}, "encoding": {"y": {"field": "lo", "type": "quantitative"}, "y2": {"field": "hi"}}},
          {"data": {"name": "bars"}, "transform": [{"filter": "datum.p == 'c' && datum.s == 't'"}], "mark": {"type": "tick", "color": "#000000", "thickness": 0.6, "size": 4}, "encoding": {"y": {"field": "hi", "type": "quantitative"}}},
          {"data": {"name": "bars"}, "transform": [{"filter": "datum.p == 'c' && datum.s == 't'"}], "mark": {"type": "tick", "color": "#000000", "thickness": 0.6, "size": 4}, "encoding": {"y": {"field": "lo", "type": "quantitative"}}},
          {"data": {"name": "stars"}, "transform": [{"filter": "datum.p == 'c' && datum.s == 't'"}], "mark": {"type": "text", "text": "*", "fontSize": 13, "baseline": "alphabetic", "dy": 7, "color": "#000000"}, "encoding": {"y": {"field": "y", "type": "quantitative"}}}
         ]},
        {"width": 190, "height": 45,
         "encoding": {"x": {"field": "f", "type": "nominal", "sort": null, "scale": {"paddingInner": 0.1, "paddingOuter": 0.15}, "axis": {"title": null, "labelAngle": -45, "labelAlign": "right", "labelBaseline": "top", "labelFontSize": 6.8, "labelPadding": 1, "domainColor": "#9a9a9a", "domainWidth": 1.6, "tickColor": "#9a9a9a", "tickSize": 2}}},
         "layer": [
          {"data": {"name": "bars"}, "transform": [{"filter": "datum.p == 'c' && datum.s == 'b'"}], "mark": {"type": "bar", "color": "#54278f", "stroke": "#1a1a1a", "strokeWidth": 0.5}, "encoding": {"y": {"field": "m", "type": "quantitative", "scale": {"domain": [-1.3, 27.2], "nice": false, "zero": false}, "axis": {"values": [0, 10, 20], "title": null, "domainColor": "#9a9a9a", "domainWidth": 1.6, "tickColor": "#9a9a9a", "tickSize": 2}}, "y2": {"datum": 0}}},
          {"data": {"name": "bars"}, "transform": [{"filter": "datum.p == 'c' && datum.s == 'b'"}], "mark": {"type": "rule", "color": "#000000", "strokeWidth": 0.6}, "encoding": {"y": {"field": "lo", "type": "quantitative"}, "y2": {"field": "hi"}}},
          {"data": {"name": "bars"}, "transform": [{"filter": "datum.p == 'c' && datum.s == 'b'"}], "mark": {"type": "tick", "color": "#000000", "thickness": 0.6, "size": 4}, "encoding": {"y": {"field": "hi", "type": "quantitative"}}},
          {"data": {"name": "bars"}, "transform": [{"filter": "datum.p == 'c' && datum.s == 'b'"}], "mark": {"type": "tick", "color": "#000000", "thickness": 0.6, "size": 4}, "encoding": {"y": {"field": "lo", "type": "quantitative"}}},
          {"data": {"name": "stars"}, "transform": [{"filter": "datum.p == 'c' && datum.s == 'b'"}], "mark": {"type": "text", "text": "*", "fontSize": 13, "baseline": "alphabetic", "dy": 7, "color": "#000000"}, "encoding": {"y": {"field": "y", "type": "quantitative"}}}
         ]}
      ]}
  ]},
  {"bounds": "flush", "spacing": 18, "vconcat": [
      {"width": 143, "height": 165, "view": {"stroke": "#a6a6a6", "strokeWidth": 0.8},
       "layer": [
        {"data": {"name": "box"}, "transform": [{"filter": "datum.p == 'a'"}], "mark": {"type": "rule", "color": "#333333", "strokeWidth": 0.6},
         "encoding": {
           "y": {"field": "f", "type": "nominal", "sort": null, "scale": {"paddingInner": 0, "paddingOuter": 0.1}, "axis": {"title": null, "grid": true, "gridColor": "#e8e8e8", "gridWidth": 0.9, "domain": false, "labelFontSize": 6.3, "tickSize": 2, "labelPadding": 1, "bandPosition": 0.5}},
           "x": {"field": "lo", "type": "quantitative", "scale": {"domain": [0.02, 0.92], "nice": false, "zero": false}, "axis": {"title": null, "values": [0.125, 0.25, 0.375, 0.5, 0.625, 0.75, 0.875], "labelExpr": "datum.value == 0.25 || datum.value == 0.5 || datum.value == 0.75 ? format(datum.value, '.2f') : ''", "grid": true, "gridColor": "#e8e8e8", "gridWidth": {"condition": {"test": "datum.value == 0.25 || datum.value == 0.5 || datum.value == 0.75", "value": 0.9}, "value": 0.45}, "tickOpacity": {"condition": {"test": "datum.value == 0.25 || datum.value == 0.5 || datum.value == 0.75", "value": 1}, "value": 0}, "domain": false, "tickSize": 2, "labelPadding": 1}},
           "x2": {"field": "hi"}}},
        {"data": {"name": "box"}, "transform": [{"filter": "datum.p == 'a'"}], "mark": {"type": "bar", "fill": "#ffffff", "stroke": "#333333", "strokeWidth": 0.6, "height": {"band": 0.75}},
         "encoding": {"y": {"field": "f", "type": "nominal", "sort": null}, "x": {"field": "q1", "type": "quantitative"}, "x2": {"field": "q3"}}},
        {"data": {"name": "box"}, "transform": [{"filter": "datum.p == 'a'"}], "mark": {"type": "tick", "color": "#111111", "thickness": 1.2, "size": 6},
         "encoding": {"y": {"field": "f", "type": "nominal", "sort": null}, "x": {"field": "md", "type": "quantitative"}}},
        {"data": {"name": "outl"}, "transform": [{"filter": "datum.p == 'a'"}], "mark": {"type": "circle", "size": 8, "color": "#555555", "opacity": 0.45},
         "encoding": {"y": {"field": "f", "type": "nominal", "sort": null}, "x": {"field": "v", "type": "quantitative"}}}
       ]},
      {"width": 143, "height": 164, "view": {"stroke": "#a6a6a6", "strokeWidth": 0.8},
       "layer": [
        {"data": {"name": "box"}, "transform": [{"filter": "datum.p == 'b'"}], "mark": {"type": "rule", "color": "#333333", "strokeWidth": 0.6},
         "encoding": {
           "y": {"field": "f", "type": "nominal", "sort": null, "scale": {"paddingInner": 0, "paddingOuter": 0.1}, "axis": {"title": null, "grid": true, "gridColor": "#e8e8e8", "gridWidth": 0.9, "domain": false, "labelFontSize": 6.3, "tickSize": 2, "labelPadding": 1, "bandPosition": 0.5}},
           "x": {"field": "lo", "type": "quantitative", "scale": {"domain": [-0.016, 0.33], "nice": false, "zero": false}, "axis": {"title": null, "values": [0, 0.05, 0.1, 0.15, 0.2, 0.25, 0.3], "labelExpr": "datum.value == 0 || datum.value == 0.1 || datum.value == 0.2 || datum.value == 0.3 ? format(datum.value, '.1f') : ''", "grid": true, "gridColor": "#e8e8e8", "gridWidth": {"condition": {"test": "datum.value == 0 || datum.value == 0.1 || datum.value == 0.2 || datum.value == 0.3", "value": 0.9}, "value": 0.45}, "tickOpacity": {"condition": {"test": "datum.value == 0 || datum.value == 0.1 || datum.value == 0.2 || datum.value == 0.3", "value": 1}, "value": 0}, "domain": false, "tickSize": 2, "labelPadding": 1}},
           "x2": {"field": "hi"}}},
        {"data": {"name": "box"}, "transform": [{"filter": "datum.p == 'b'"}], "mark": {"type": "bar", "fill": "#ffffff", "stroke": "#333333", "strokeWidth": 0.6, "height": {"band": 0.75}},
         "encoding": {"y": {"field": "f", "type": "nominal", "sort": null}, "x": {"field": "q1", "type": "quantitative"}, "x2": {"field": "q3"}}},
        {"data": {"name": "box"}, "transform": [{"filter": "datum.p == 'b'"}], "mark": {"type": "tick", "color": "#111111", "thickness": 1.2, "size": 6},
         "encoding": {"y": {"field": "f", "type": "nominal", "sort": null}, "x": {"field": "md", "type": "quantitative"}}},
        {"data": {"name": "outl"}, "transform": [{"filter": "datum.p == 'b'"}], "mark": {"type": "circle", "size": 8, "color": "#555555", "opacity": 0.45},
         "encoding": {"y": {"field": "f", "type": "nominal", "sort": null}, "x": {"field": "v", "type": "quantitative"}}}
       ]},
      {"width": 145, "height": 155, "view": {"stroke": "#a6a6a6", "strokeWidth": 0.8},
       "layer": [
        {"data": {"name": "box"}, "transform": [{"filter": "datum.p == 'c'"}], "mark": {"type": "rule", "color": "#333333", "strokeWidth": 0.6},
         "encoding": {
           "y": {"field": "f", "type": "nominal", "sort": null, "scale": {"paddingInner": 0, "paddingOuter": 0.1}, "axis": {"title": null, "grid": true, "gridColor": "#e8e8e8", "gridWidth": 0.9, "domain": false, "labelFontSize": 6.3, "tickSize": 2, "labelPadding": 1, "bandPosition": 0.5}},
           "x": {"field": "lo", "type": "quantitative", "scale": {"domain": [-0.01, 1.02], "nice": false, "zero": false}, "axis": {"title": "Mean Decrease Accuracy", "titlePadding": 1, "values": [0, 0.125, 0.25, 0.375, 0.5, 0.625, 0.75, 0.875, 1], "labelExpr": "datum.value == 0 || datum.value == 0.25 || datum.value == 0.5 || datum.value == 0.75 || datum.value == 1 ? format(datum.value, '.2f') : ''", "grid": true, "gridColor": "#e8e8e8", "gridWidth": {"condition": {"test": "datum.value == 0 || datum.value == 0.25 || datum.value == 0.5 || datum.value == 0.75 || datum.value == 1", "value": 0.9}, "value": 0.45}, "tickOpacity": {"condition": {"test": "datum.value == 0 || datum.value == 0.25 || datum.value == 0.5 || datum.value == 0.75 || datum.value == 1", "value": 1}, "value": 0}, "domain": false, "tickSize": 2, "labelPadding": 1}},
           "x2": {"field": "hi"}}},
        {"data": {"name": "box"}, "transform": [{"filter": "datum.p == 'c'"}], "mark": {"type": "bar", "fill": "#ffffff", "stroke": "#333333", "strokeWidth": 0.6, "height": {"band": 0.75}},
         "encoding": {"y": {"field": "f", "type": "nominal", "sort": null}, "x": {"field": "q1", "type": "quantitative"}, "x2": {"field": "q3"}}},
        {"data": {"name": "box"}, "transform": [{"filter": "datum.p == 'c'"}], "mark": {"type": "tick", "color": "#111111", "thickness": 1.2, "size": 6},
         "encoding": {"y": {"field": "f", "type": "nominal", "sort": null}, "x": {"field": "md", "type": "quantitative"}}},
        {"data": {"name": "outl"}, "transform": [{"filter": "datum.p == 'c'"}], "mark": {"type": "circle", "size": 8, "color": "#555555", "opacity": 0.45},
         "encoding": {"y": {"field": "f", "type": "nominal", "sort": null}, "x": {"field": "v", "type": "quantitative"}}}
       ]}
  ]}
  ]}
]
}
